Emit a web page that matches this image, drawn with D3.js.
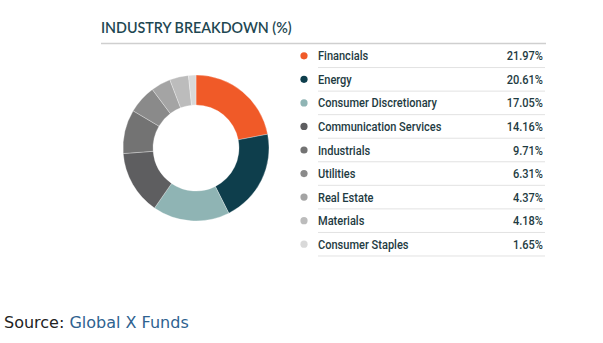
<!DOCTYPE html>
<html>
<head>
<meta charset="utf-8">
<script src="https://cdn.jsdelivr.net/npm/d3@7"></script>
<style>
  html, body { margin: 0; padding: 0; background: #fff; }
  svg { display: block; }
</style>
</head>
<body>
<svg id="chart" width="603" height="343"></svg>
<script>
// Sector weights of the fund, in percent
const sectors = ["Financials", "Energy", "Consumer Discretionary", "Communication Services",
  "Industrials", "Utilities", "Real Estate", "Materials", "Consumer Staples"];
const weights = [21.97, 20.61, 17.05, 14.16, 9.71, 6.31, 4.37, 4.18, 1.65];
const sectorColors = ["#f05a28", "#0e3e4c", "#8fb4b4", "#5e5e60", "#737373",
  "#8a8a8a", "#a4a4a4", "#bcbcbc", "#d9d9d9"];
const titleText = "INDUSTRY BREAKDOWN (%)";

const svg = d3.select("#chart");
const data = sectors.map((s, i) => ({ sector: s, value: weights[i], color: sectorColors[i] }));

// Title and rule underneath
svg.append("text")
  .attr("x", 101).attr("y", 33)
  .attr("font-family", "Lato, 'Open Sans', sans-serif")
  .attr("font-size", 14.3)
  .attr("font-weight", 600)
  .attr("fill", "#1e4752")
  .text(titleText);
svg.append("line")
  .attr("x1", 101).attr("x2", 546).attr("y1", 43.5).attr("y2", 43.5)
  .attr("stroke", "#cfcfcf").attr("stroke-width", 1.5);

// Donut
const pie = d3.pie().sort(null).value(d => d.value);
const arc = d3.arc().innerRadius(43).outerRadius(73);
const donut = svg.append("g").attr("transform", "translate(196,148)");
donut.selectAll("path")
  .data(pie(data))
  .join("path")
  .attr("d", arc)
  .attr("fill", d => d.data.color)
  .attr("stroke", "#fff")
  .attr("stroke-width", 0.3);

// Legend table
const row = d3.scaleBand().domain(sectors).range([44, 256]).paddingInner(0);
const legend = svg.append("g");
const rows = legend.selectAll("g.row")
  .data(data)
  .join("g")
  .attr("class", "row")
  .attr("transform", d => `translate(0,${row(d.sector)})`);

const bh = row.bandwidth();
const condense = 0.85;
rows.append("circle")
  .attr("cx", 304).attr("cy", bh / 2)
  .attr("r", 3.6)
  .attr("fill", d => d.color);
rows.append("text")
  .attr("transform", `translate(318,${bh / 2 + 4.5}) scale(${condense},1)`)
  .attr("font-family", "Roboto, sans-serif")
  .attr("font-size", 13)
  .attr("font-weight", 500)
  .attr("fill", "#1e3b42")
  .text(d => d.sector);
rows.append("text")
  .attr("transform", `translate(543,${bh / 2 + 4.5}) scale(${condense},1)`)
  .attr("text-anchor", "end")
  .attr("font-family", "Roboto, sans-serif")
  .attr("font-size", 13)
  .attr("font-weight", 500)
  .attr("fill", "#1e3b42")
  .text(d => d3.format(".2f")(d.value) + "%");
rows.append("line")
  .attr("x1", 318).attr("x2", 545)
  .attr("y1", bh).attr("y2", bh)
  .attr("stroke", "#e2e2e2").attr("stroke-width", 1);

// Source note
const src = svg.append("text")
  .attr("x", 4).attr("y", 328)
  .attr("font-family", "'DejaVu Sans', Verdana, sans-serif")
  .attr("font-size", 16);
src.append("tspan").attr("fill", "#222").text("Source: ");
src.append("tspan").attr("fill", "#2e6290").text("Global X Funds");
</script>
</body>
</html>
